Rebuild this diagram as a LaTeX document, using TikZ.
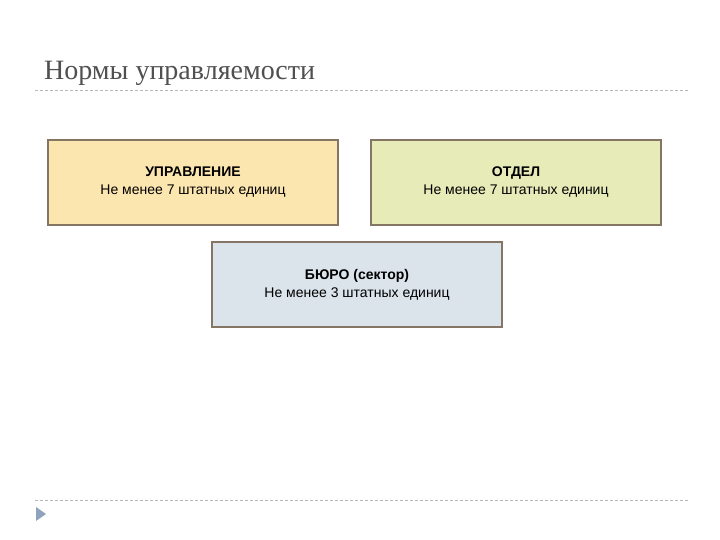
\documentclass[tikz,border=0pt]{standalone}
\usepackage{fontspec}
\setmainfont{Liberation Sans}
\newfontfamily\titlefont{Liberation Serif}
\definecolor{bordc}{HTML}{857565}
\definecolor{fa}{HTML}{FCE6B0}
\definecolor{fb}{HTML}{E6EBB8}
\definecolor{fc}{HTML}{DCE4EB}
\definecolor{titc}{HTML}{505050}
\definecolor{linec}{HTML}{B8B8B8}
\definecolor{tric}{HTML}{8FA3BE}
\begin{document}
\begin{tikzpicture}[x=1pt,y=-1pt,
  boxs/.style={draw=bordc,line width=1.6pt,minimum width=290pt,minimum height=85pt,align=center,font=\fontsize{14}{18}\selectfont,text=black,inner sep=0pt},
  rule/.style={draw=linec,dashed,dash pattern=on 3pt off 2pt,line width=0.8pt}]
\useasboundingbox (0,0) rectangle (720,540);
\fill[white] (0,0) rectangle (720,540);
\node[anchor=base west,text=titc,font=\titlefont\fontsize{28}{32}\selectfont,inner sep=0pt] (title) at (44,80) {Нормы управляемости};
\coordinate (r1a) at (35,90); \coordinate (r1b) at (688,90);
\draw[rule] (r1a) -- (r1b);
\coordinate (r2a) at (35,500); \coordinate (r2b) at (688,500);
\draw[rule] (r2a) -- (r2b);
\node[boxs,fill=fa] (upr) at (193,182.5) {\textbf{УПРАВЛЕНИЕ}\\Не менее 7 штатных единиц};
\node[boxs,fill=fb] (otd) at (516,182.5) {\textbf{ОТДЕЛ}\\Не менее 7 штатных единиц};
\node[boxs,fill=fc] (bur) at (357,284.5) {\textbf{БЮРО (сектор)}\\Не менее 3 штатных единиц};
\fill[tric] (36,507) -- (46,514) -- (36,521) -- cycle;
\end{tikzpicture}
\end{document}
